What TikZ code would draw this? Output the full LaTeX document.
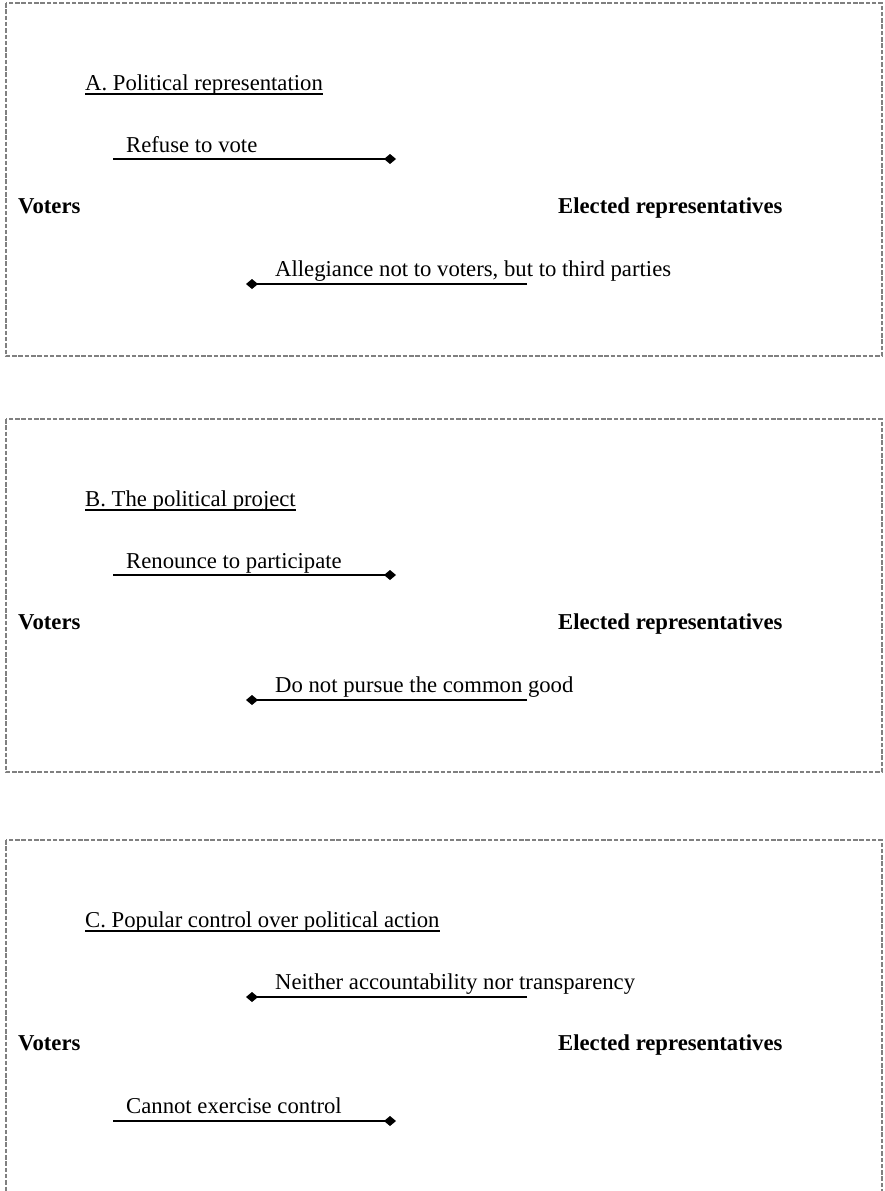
\documentclass[tikz,border=0pt]{standalone}
\usepackage{fontspec}
\setmainfont{Liberation Serif}
\usetikzlibrary{arrows.meta}

\tikzset{
  txt/.style={inner sep=0pt, anchor=base west, font=\fontsize{22.7pt}{27pt}\selectfont},
  bold/.style={txt, font=\fontsize{22.7pt}{27pt}\selectfont\bfseries},
  panel/.style={draw=black!50, line width=1.1pt, dash pattern=on 4.5pt off 1.8pt},
  uline/.style={line width=1.6pt},
  link/.style={line width=1.6pt, -{Diamond[length=12pt,width=10pt]}},
}

% one panel: #1 top edge, #2 label prefix, #3 title, #4 upper text, #5 lower text,
% #6 = 1 when the upper link points right (towards the representatives)
\newcommand{\drawpanel}[6]{%
  \begin{scope}[shift={(0,#1)}]
    \draw[panel] (6,0) rectangle (882,353);
    \node[txt] (#2title) at (85,87) {#3};
    \draw[uline] ([yshift=-4pt]#2title.base west) -- ([yshift=-4pt]#2title.base east);
    \node[bold] (#2voters) at (18,210) {Voters};
    \node[bold] (#2elected) at (558,210) {Elected representatives};
    \ifnum#6=1
      \node[txt] (#2up) at (126,149) {#4};
      \coordinate (#2upa) at (113,156);
      \coordinate (#2upb) at (396,156);
      \draw[link] (#2upa) -- (#2upb);
      \node[txt] (#2low) at (275,273) {#5};
      \coordinate (#2lowa) at (527,281);
      \coordinate (#2lowb) at (246,281);
      \draw[link] (#2lowa) -- (#2lowb);
    \else
      \node[txt] (#2up) at (275,149) {#4};
      \coordinate (#2upa) at (527,157);
      \coordinate (#2upb) at (246,157);
      \draw[link] (#2upa) -- (#2upb);
      \node[txt] (#2low) at (126,273) {#5};
      \coordinate (#2lowa) at (113,281);
      \coordinate (#2lowb) at (396,281);
      \draw[link] (#2lowa) -- (#2lowb);
    \fi
  \end{scope}}

\begin{document}
\begin{tikzpicture}[x=1pt, y=-1pt]
  \useasboundingbox (0,0) rectangle (884,1191);
  \clip (0,0) rectangle (884,1191);
  \drawpanel{3}{a}{A. Political representation}{Refuse to vote}{Allegiance not to voters, but to third parties}{1}
  \drawpanel{419}{b}{B. The political project}{Renounce to participate}{Do not pursue the common good}{1}
  \drawpanel{840}{c}{C. Popular control over political action}{Neither accountability nor transparency}{Cannot exercise control}{0}
\end{tikzpicture}
\end{document}
